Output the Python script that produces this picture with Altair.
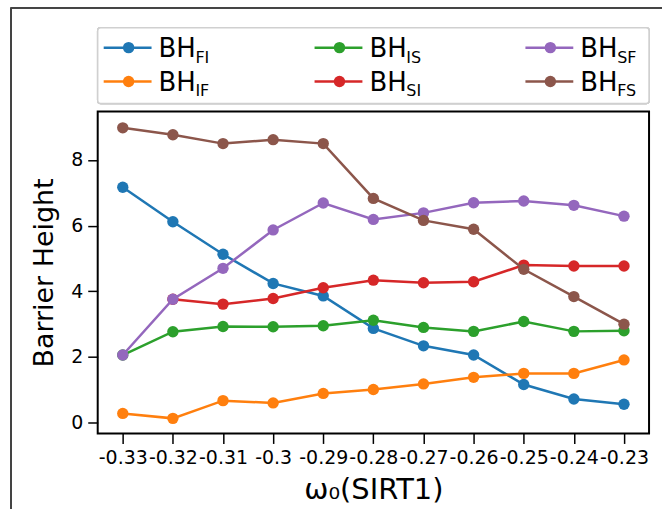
import altair as alt
import pandas as pd
import numpy as np

# ---- data ----
omega = [-0.33, -0.32, -0.31, -0.30, -0.29, -0.28, -0.27, -0.26, -0.25, -0.24, -0.23]
bh_fi = [7.17, 6.12, 5.13, 4.24, 3.86, 2.87, 2.34, 2.06, 1.16, 0.72, 0.56]
bh_if = [0.28, 0.13, 0.67, 0.60, 0.89, 1.01, 1.18, 1.38, 1.50, 1.50, 1.91]
bh_is = [2.06, 2.77, 2.93, 2.92, 2.95, 3.12, 2.90, 2.78, 3.08, 2.78, 2.80]
bh_si = [None, 3.76, 3.61, 3.78, 4.11, 4.34, 4.26, 4.29, 4.80, 4.77, 4.77]
bh_sf = [2.06, 3.76, 4.70, 5.87, 6.69, 6.19, 6.39, 6.70, 6.75, 6.62, 6.29]
bh_fs = [8.98, 8.77, 8.50, 8.62, 8.50, 6.83, 6.16, 5.89, 4.67, 3.84, 3.00]

series_keys = ["FI", "IF", "IS", "SI", "SF", "FS"]
series_vals = [bh_fi, bh_if, bh_is, bh_si, bh_sf, bh_fs]
series_colors = ["#1f77b4", "#ff7f0e", "#2ca02c", "#d62728", "#9467bd", "#8c564b"]
legend_col = [0, 0, 1, 1, 2, 2]
legend_row = [0, 1, 0, 1, 0, 1]

x_ticks = [-0.33, -0.32, -0.31, -0.30, -0.29, -0.28, -0.27, -0.26, -0.25, -0.24, -0.23]
y_ticks = [0, 2, 4, 6, 8]

FONT = "DejaVu Sans"
W, H = 553, 323

x_scale = alt.Scale(domain=[-0.335, -0.225], nice=False, zero=False)
y_scale = alt.Scale(domain=[-0.33, 9.48], nice=False, zero=False)

layers = []
for key, vals, col in zip(series_keys, series_vals, series_colors):
    df = pd.DataFrame({"omega": omega, "bh": vals}).dropna()
    ch = alt.Chart(df).mark_line(
        color=col, strokeWidth=2.5,
        point=alt.OverlayMarkDef(filled=True, size=130, color=col, opacity=1),
    ).encode(
        x=alt.X("omega:Q", scale=x_scale,
                axis=alt.Axis(values=x_ticks, title="ω₀(SIRT1)", labelOverlap=False,
                              titleFontSize=29, titlePadding=8,
                              labelExpr="'-' + format(abs(datum.value), '.2~f')")),
        y=alt.Y("bh:Q", scale=y_scale,
                axis=alt.Axis(values=y_ticks, title="Barrier Height")),
    )
    layers.append(ch)

series_layer = alt.layer(*layers)

# ---- legend (own scales) ----
leg_df = pd.DataFrame({
    "col": legend_col,
    "row": legend_row,
    "key": series_keys,
    "color": series_colors,
})
lx = alt.X("col:Q", scale=alt.Scale(domain=[-0.1466, 2.468], nice=False, zero=False), axis=None)
ly = alt.Y("row:Q", scale=alt.Scale(domain=[1.882, 11.382], nice=False, zero=False, reverse=True), axis=None)

leg_base = alt.Chart(leg_df)
frame_top = alt.Chart(leg_df).mark_rule(color="#444444", strokeWidth=1.5).encode(
    x=alt.value(-87), x2=alt.value(566), y=alt.value(-104))
frame_left = alt.Chart(leg_df).mark_rule(color="#444444", strokeWidth=1.5).encode(
    x=alt.value(-87), y=alt.value(-104), y2=alt.value(399))
box = alt.Chart(leg_df).mark_rect(fill="white", stroke="#d0d0d0", strokeWidth=1.5,
                                   cornerRadius=3).encode(
    x=alt.value(0), x2=alt.value(553), y=alt.value(-84), y2=alt.value(-8))
seg = leg_base.mark_rule(strokeWidth=2.5, xOffset=-25, x2Offset=23).encode(
    x=lx, x2="col:Q", y=ly, color=alt.Color("color:N", scale=None))
dot = leg_base.mark_point(filled=True, size=130, opacity=1).encode(
    x=lx, y=ly, color=alt.Color("color:N", scale=None))
txt = leg_base.mark_text(align="left", baseline="middle", dx=30, dy=1,
                         fontSize=26, font=FONT, color="black").encode(
    x=lx, y=ly, text=alt.value("BH"))
sub = leg_base.mark_text(align="left", baseline="middle", dx=67, dy=10,
                         fontSize=16, font=FONT, color="black").encode(
    x=lx, y=ly, text="key:N")

legend_layer = alt.layer(frame_top, frame_left, box, seg, dot, txt, sub)

chart = alt.layer(series_layer, legend_layer).resolve_scale(
    x="independent", y="independent"
).properties(
    width=W, height=H,
    padding={"left": 10, "top": 6, "right": 0, "bottom": 0},
    background="white",
).configure_view(
    stroke="black", strokeWidth=2
).configure_axis(
    grid=False,
    domain=False,
    tickColor="black", tickWidth=1.5, tickSize=10,
    labelFont=FONT, labelFontSize=19, labelColor="black",
    titleFont=FONT, titleFontSize=27, titleColor="black", titleFontWeight="normal",
).configure_axisX(
    labelPadding=5, labelAngle=0,
).configure_axisY(
    labelPadding=5, titlePadding=12,
)

chart.save("out.html", embed_options={"renderer": "svg", "actions": False})
